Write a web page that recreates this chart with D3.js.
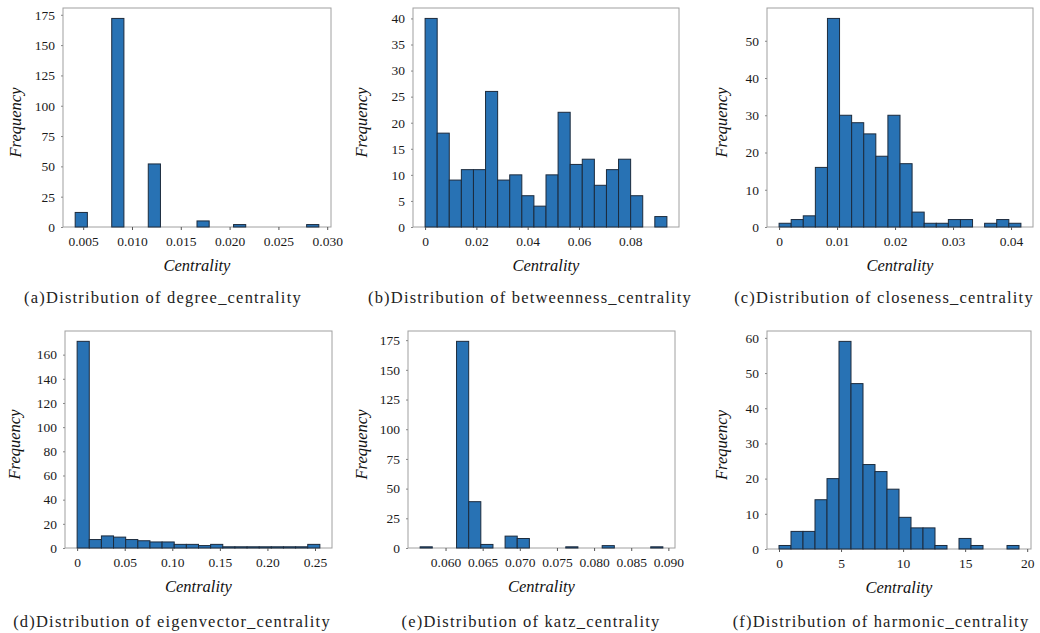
<!DOCTYPE html>
<html>
<head>
<meta charset="utf-8">
<script src="https://cdn.jsdelivr.net/npm/d3@7"></script>
<style>
  body { margin: 0; background: #fff; }
  svg { display: block; }
</style>
</head>
<body>
<div class="contents"></div>
<script>
// histogram counts (20 bins each) and the value span the bins cover
var degreeCounts = [12, 0, 0, 172, 0, 0, 52, 0, 0, 0, 5, 0, 0, 2, 0, 0, 0, 0, 0, 2];
var degreeRange = [0.00418, 0.02914];
var degreeXTicks = ["0.005", "0.010", "0.015", "0.020", "0.025", "0.030"];
var degreeYTicks = ["0", "25", "50", "75", "100", "125", "150", "175"];

var betweennessCounts = [40, 18, 9, 11, 11, 26, 9, 10, 6, 4, 10, 22, 12, 13, 8, 11, 13, 6, 0, 2];
var betweennessRange = [0, 0.0943];
var betweennessXTicks = ["0", "0.02", "0.04", "0.06", "0.08"];
var betweennessYTicks = ["0", "5", "10", "15", "20", "25", "30", "35", "40"];

var closenessCounts = [1, 2, 3, 16, 56, 30, 28, 25, 19, 30, 17, 4, 1, 1, 2, 2, 0, 1, 2, 1];
var closenessRange = [0, 0.0417];
var closenessXTicks = ["0", "0.01", "0.02", "0.03", "0.04"];
var closenessYTicks = ["0", "10", "20", "30", "40", "50"];

var eigenvectorCounts = [171, 7, 10, 9, 7, 6, 5, 5, 3, 3, 2, 3, 1, 1, 1, 1, 1, 1, 1, 3];
var eigenvectorRange = [0, 0.2551];
var eigenvectorXTicks = ["0", "0.05", "0.10", "0.15", "0.20", "0.25"];
var eigenvectorYTicks = ["0", "20", "40", "60", "80", "100", "120", "140", "160"];

var katzCounts = [1, 0, 0, 174, 39, 3, 0, 10, 8, 0, 0, 0, 1, 0, 0, 2, 0, 0, 0, 1];
var katzRange = [0.05658, 0.08926];
var katzXTicks = ["0.060", "0.065", "0.070", "0.075", "0.080", "0.085", "0.090"];
var katzYTicks = ["0", "25", "50", "75", "100", "125", "150", "175"];

var harmonicCounts = [1, 5, 5, 14, 20, 59, 47, 24, 22, 17, 9, 6, 6, 1, 0, 3, 1, 0, 0, 1];
var harmonicRange = [0, 19.34];
var harmonicXTicks = ["0", "5", "10", "15", "20"];
var harmonicYTicks = ["0", "10", "20", "30", "40", "50", "60"];

var captions = [
  "(a)Distribution of degree_centrality",
  "(b)Distribution of betweenness_centrality",
  "(c)Distribution of closeness_centrality",
  "(d)Distribution of eigenvector_centrality",
  "(e)Distribution of katz_centrality",
  "(f)Distribution of harmonic_centrality"
];

var serif = "'Liberation Serif', 'Times New Roman', serif";

var panels = [
  { counts: degreeCounts, range: degreeRange, xTicks: degreeXTicks, yTicks: degreeYTicks,
    frame: { left: 63, top: 8, right: 331, bottom: 227 }, titleX: 16, captionX: 163, captionY: 303 },
  { counts: betweennessCounts, range: betweennessRange, xTicks: betweennessXTicks, yTicks: betweennessYTicks,
    frame: { left: 413, top: 8, right: 679, bottom: 227 }, titleX: 362, captionX: 530, captionY: 303 },
  { counts: closenessCounts, range: closenessRange, xTicks: closenessXTicks, yTicks: closenessYTicks,
    frame: { left: 767, top: 8, right: 1033, bottom: 227 }, titleX: 722, captionX: 884, captionY: 303 },
  { counts: eigenvectorCounts, range: eigenvectorRange, xTicks: eigenvectorXTicks, yTicks: eigenvectorYTicks,
    frame: { left: 65, top: 331, right: 332, bottom: 548 }, titleX: 15, captionX: 172, captionY: 627 },
  { counts: katzCounts, range: katzRange, xTicks: katzXTicks, yTicks: katzYTicks,
    frame: { left: 408, top: 331, right: 675, bottom: 548 }, titleX: 362, captionX: 531, captionY: 627 },
  { counts: harmonicCounts, range: harmonicRange, xTicks: harmonicXTicks, yTicks: harmonicYTicks,
    frame: { left: 767, top: 331, right: 1031, bottom: 549 }, titleX: 722, captionX: 881, captionY: 627 }
];

var svg = d3.select(".contents").append("svg")
    .attr("width", 1040)
    .attr("height", 633);

function styleAxis(sel, tickColor) {
  sel.attr("font-family", serif).attr("font-size", 13.5);
  sel.select(".domain").remove();
  sel.selectAll("line").attr("stroke", tickColor);
  sel.selectAll("text").attr("fill", "#1a1a1a");
}

function drawPanel(p, i) {
  var f = p.frame;
  var n = p.counts.length;
  var lo = p.range[0], hi = p.range[1];
  var step = (hi - lo) / n;
  var pad = (hi - lo) * 0.05;

  var x = d3.scaleLinear().domain([lo - pad, hi + pad]).range([f.left, f.right]);
  var y = d3.scaleLinear().domain([0, d3.max(p.counts) * 1.05]).range([f.bottom, f.top]);

  var g = svg.append("g").attr("class", "panel");

  // bins
  var bins = p.counts.map(function(c, k) {
    return { x0: lo + k * step, x1: lo + (k + 1) * step, count: c };
  }).filter(function(b) { return b.count > 0; });

  // frame
  g.append("rect")
      .attr("x", f.left)
      .attr("y", f.top)
      .attr("width", f.right - f.left)
      .attr("height", f.bottom - f.top)
      .attr("fill", "none")
      .attr("stroke", "#a0a0a0")
      .attr("stroke-width", 1);

  g.selectAll("rect.bar")
      .data(bins)
      .enter().append("rect")
      .attr("class", "bar")
      .attr("x", function(d) { return x(d.x0); })
      .attr("y", function(d) { return y(d.count); })
      .attr("width", function(d) { return x(d.x1) - x(d.x0); })
      .attr("height", function(d) { return y(0) - y(d.count); })
      .attr("fill", "#2872b4")
      .attr("stroke", "#1c2b3d")
      .attr("stroke-width", 1);

  // x axis
  var xAxis = d3.axisBottom(x)
      .tickValues(p.xTicks.map(Number))
      .tickFormat(function(d, k) { return p.xTicks[k]; })
      .tickSize(3)
      .tickPadding(6);
  g.append("g")
      .attr("transform", "translate(0," + f.bottom + ")")
      .call(xAxis)
      .call(styleAxis, "#555");

  // y axis
  var yAxis = d3.axisLeft(y)
      .tickValues(p.yTicks.map(Number))
      .tickFormat(function(d, k) { return p.yTicks[k]; })
      .tickSize(2)
      .tickPadding(6);
  g.append("g")
      .attr("transform", "translate(" + f.left + ",0)")
      .call(yAxis)
      .call(styleAxis, "#888");

  // titles
  g.append("text")
      .attr("x", (f.left + f.right) / 2)
      .attr("y", f.bottom + 44)
      .attr("font-family", serif)
      .attr("font-style", "italic")
      .attr("font-size", 16.5)
      .attr("fill", "#111")
      .style("text-anchor", "middle")
      .text("Centrality");

  var midY = (f.top + f.bottom) / 2 + 5;
  g.append("text")
      .attr("transform", "translate(" + p.titleX + "," + midY + ") rotate(-90)")
      .attr("dy", "0.32em")
      .attr("font-family", serif)
      .attr("font-style", "italic")
      .attr("font-size", 16.5)
      .attr("fill", "#111")
      .style("text-anchor", "middle")
      .text("Frequency");

  g.append("text")
      .attr("x", p.captionX)
      .attr("y", p.captionY)
      .attr("font-family", serif)
      .attr("font-size", 16.5)
      .attr("letter-spacing", 1.2)
      .attr("fill", "#222")
      .style("text-anchor", "middle")
      .text(captions[i]);
}

panels.forEach(drawPanel);
</script>
</body>
</html>
